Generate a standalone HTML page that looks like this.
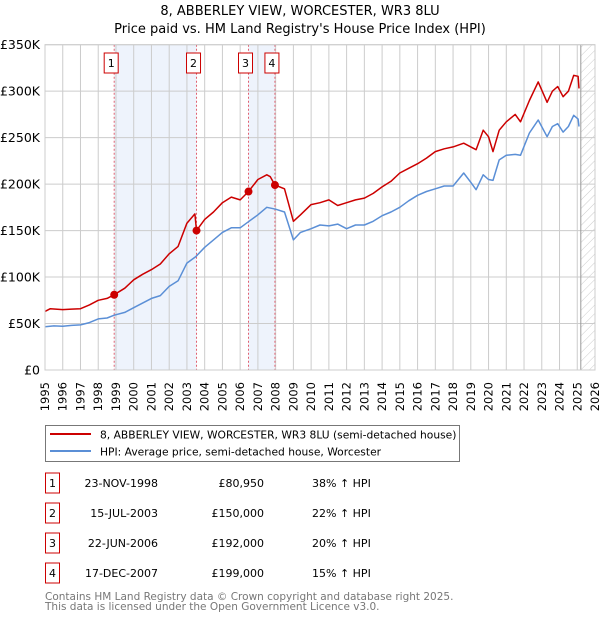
<!DOCTYPE html>
<html><head><meta charset="utf-8"><style>
body{margin:0;background:#fff;font-family:"DejaVu Sans","Liberation Sans",sans-serif;}
svg text{font-family:"DejaVu Sans","Liberation Sans",sans-serif;}
</style></head><body>
<svg id="chart" width="600" height="620" xmlns="http://www.w3.org/2000/svg">
<defs><pattern id="hatch" width="6" height="6" patternUnits="userSpaceOnUse" patternTransform="rotate(45)"><line x1="0" y1="0" x2="0" y2="6" stroke="#ccc" stroke-width="1"/></pattern></defs>
<text x="300" y="15" text-anchor="middle" font-size="13">8, ABBERLEY VIEW, WORCESTER, WR3 8LU</text>
<text x="300" y="33" text-anchor="middle" font-size="13">Price paid vs. HM Land Registry's House Price Index (HPI)</text>
<g id="plot"></g>
<g>
<rect x="45.5" y="425.5" width="414" height="36" fill="#fff" stroke="#777"/>
<line x1="50" y1="434" x2="91" y2="434" stroke="#cc0000" stroke-width="2"/>
<text x="100" y="438.5" font-size="10.7">8, ABBERLEY VIEW, WORCESTER, WR3 8LU (semi-detached house)</text>
<line x1="50" y1="451" x2="91" y2="451" stroke="#5b8fd6" stroke-width="2"/>
<text x="100" y="455.5" font-size="10.7">HPI: Average price, semi-detached house, Worcester</text>
</g>
<g id="table" font-size="11"></g>
<text x="45" y="600" font-size="10.5" fill="#777">Contains HM Land Registry data © Crown copyright and database right 2025.</text>
<text x="45" y="610" font-size="10.5" fill="#777">This data is licensed under the Open Government Licence v3.0.</text>
</svg>
<script>
const yTicks=[0,50000,100000,150000,200000,250000,300000,350000];
const yTickLabels=["£0","£50K","£100K","£150K","£200K","£250K","£300K","£350K"];
const xYears=[1995,1996,1997,1998,1999,2000,2001,2002,2003,2004,2005,2006,2007,2008,2009,2010,2011,2012,2013,2014,2015,2016,2017,2018,2019,2020,2021,2022,2023,2024,2025,2026];
const hpiYears=[1995,1995.5,1996,1996.5,1997,1997.5,1998,1998.5,1998.9,1999.5,2000,2000.5,2001,2001.5,2002,2002.5,2003,2003.5,2004,2004.5,2005,2005.5,2006,2006.5,2007,2007.5,2008,2008.5,2009,2009.4,2010,2010.5,2011,2011.5,2012,2012.5,2013,2013.5,2014,2014.5,2015,2015.5,2016,2016.5,2017,2017.5,2018,2018.6,2019,2019.3,2019.7,2020,2020.25,2020.6,2021,2021.5,2021.8,2022.3,2022.8,2023.3,2023.6,2023.9,2024.2,2024.5,2024.8,2025.05,2025.1];
const hpiValues=[46500,47500,47000,48000,48500,51000,55000,56000,59000,62000,67000,72000,77000,80000,90000,96000,115000,122000,132000,140000,148000,153000,153000,160000,167000,175000,173000,170000,140000,148000,152000,156000,155000,157000,152000,156000,156000,160000,166000,170000,175000,182000,188000,192000,195000,198000,198000,212000,202000,194000,210000,205000,204000,226000,231000,232000,231000,255000,269000,251000,262000,265000,256000,262000,274000,270000,262000];
const priceYears=[1995,1995.3,1996,1996.5,1997,1997.5,1998,1998.5,1998.9,1999.5,2000,2000.5,2001,2001.5,2002,2002.5,2003,2003.45,2003.54,2004,2004.5,2005,2005.5,2006,2006.47,2007,2007.5,2007.7,2007.96,2008.5,2009,2009.4,2010,2010.5,2011,2011.5,2012,2012.5,2013,2013.5,2014,2014.5,2015,2015.5,2016,2016.5,2017,2017.5,2018,2018.6,2019,2019.3,2019.7,2020,2020.25,2020.6,2021,2021.5,2021.8,2022.3,2022.8,2023.3,2023.6,2023.9,2024.2,2024.5,2024.8,2025.05,2025.1];
const priceValues=[63000,66000,65000,65500,66000,70000,75000,77000,81000,88000,97000,103000,108000,114000,125000,133000,158000,168000,150000,162000,170000,180000,186000,183000,192000,205000,210000,208000,199000,195000,160000,167000,178000,180000,183000,177000,180000,183000,185000,190000,197000,203000,212000,217000,222000,228000,235000,238000,240000,244000,240000,237000,258000,251000,235000,258000,267000,275000,267000,290000,310000,288000,300000,305000,294000,300000,317000,316000,303000];
const saleYears=[1998.9,2003.54,2006.47,2007.96];
const salePrices=[80950,150000,192000,199000];
const saleDates=["23-NOV-1998","15-JUL-2003","22-JUN-2006","17-DEC-2007"];
const salePriceLabels=["£80,950","£150,000","£192,000","£199,000"];
const salePcts=["38% ↑ HPI","22% ↑ HPI","20% ↑ HPI","15% ↑ HPI"];

const NS="http://www.w3.org/2000/svg";
const X0=45,X1=595,Y0=370,Y1=44.7;
const xs=y=>X0+(y-1995)/(2026-1995)*(X1-X0);
const ys=v=>Y0-v/350000*(Y0-Y1);
const plot=document.getElementById('plot');
function mk(tag,attrs,parent){const e=document.createElementNS(NS,tag);for(const k in attrs)e.setAttribute(k,attrs[k]);(parent||plot).appendChild(e);return e;}
for(const [a,b] of [[0,1],[2,3]]){
 const r=mk('rect',{x:xs(saleYears[a]),y:Y1,width:xs(saleYears[b])-xs(saleYears[a]),height:Y0-Y1,fill:'#eef3fc'});
 
 
}
const hx=xs(2025.2);
const hr=mk('rect',{x:hx,y:Y1,width:X1-hx,height:Y0-Y1,fill:'url(#hatch)'});


xYears.forEach(y=>{
 const l=mk('line',{x1:xs(y),x2:xs(y),y1:Y1,y2:Y0,stroke:'#ccc','stroke-width':1});
 
 
 const t=mk('text',{x:0,y:0,'font-size':11.5,'text-anchor':'end',transform:`translate(${xs(y)+4},382) rotate(-90)`});
 t.textContent=y;
 
 
});
yTicks.forEach((v,i)=>{
 const l=mk('line',{x1:X0,x2:X1,y1:ys(v),y2:ys(v),stroke:'#ccc','stroke-width':1});
 
 
 const t=mk('text',{x:40,y:ys(v)+4.5,'font-size':12.5,'text-anchor':'end'});
 t.textContent=yTickLabels[i];
 
 
});
const hl=mk('line',{x1:hx,x2:hx,y1:Y1,y2:Y0,stroke:'#999','stroke-width':1});


saleYears.forEach((y,i)=>{
 const l=mk('line',{x1:xs(y),x2:xs(y),y1:Y1,y2:Y0,stroke:'#e06070','stroke-width':1,'stroke-dasharray':'2,2'});
 
 
});
function path(xa,va,color,name){
 const d=xa.map((y,i)=>(i?'L':'M')+xs(y).toFixed(1)+','+ys(va[i]).toFixed(1)).join('');
 const p=mk('path',{d:d,fill:'none',stroke:color,'stroke-width':1.5,'stroke-linejoin':'round'});
 
 
}
path(hpiYears,hpiValues,'#5b8fd6','hpi-line');
path(priceYears,priceValues,'#cc0000','price-paid-line');
saleYears.forEach((y,i)=>{
 const c=mk('circle',{cx:xs(y),cy:ys(salePrices[i]),r:4,fill:'#cc0000'});
 
 
 const bx=xs(y)-10;
 const b=mk('rect',{x:bx,y:53,width:14,height:20,fill:'#fff',stroke:'#cc0000'});
 
 
 const t=mk('text',{x:bx+7,y:67,'font-size':11,'text-anchor':'middle'});
 t.textContent=i+1;
 
 
});
const fr=mk('rect',{x:X0,y:Y1,width:X1-X0,height:Y0-Y1,fill:'none',stroke:'#ccc'});


const tb=document.getElementById('table');
saleDates.forEach((d,i)=>{
 const cy=483+i*30;
 const b=mk('rect',{x:45.5,y:cy-10,width:14,height:20,fill:'#fff',stroke:'#cc0000'},tb);
 
 
 const vals=[[52.5,String(i+1),'middle','table-row-number'],[158,d,'end','table-row-date'],[264,salePriceLabels[i],'end','table-row-price'],[312,salePcts[i],'start','table-row-hpi-change']];
 vals.forEach(v=>{
  const t=mk('text',{x:v[0],y:cy+4,'text-anchor':v[2]},tb);
  t.textContent=v[1];
  
  
 });
});
</script>
</body></html>
